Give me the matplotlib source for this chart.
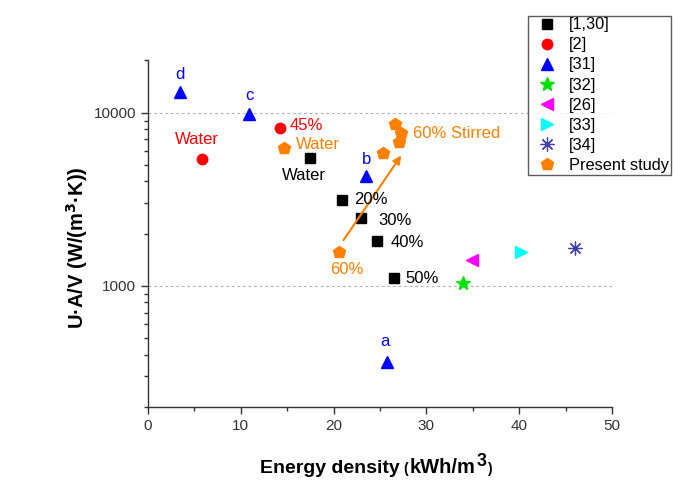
import numpy as np
import matplotlib
matplotlib.use("Agg")
import matplotlib.pyplot as plt
from matplotlib.ticker import LogLocator, NullFormatter, FuncFormatter

plt.rcParams["font.family"] = ["Liberation Sans", "DejaVu Sans"]

# --- data ---
ref_1_30_x = [17.5, 20.9, 23.0, 24.7, 26.5]
ref_1_30_y = [5500, 3135, 2460, 1820, 1107]

ref_2_x = [5.8, 14.2]
ref_2_y = [5380, 8130]

ref_31_x = [25.8, 23.5, 10.9, 3.4]
ref_31_y = [361, 4275, 9790, 13220]

ref_32_x = [33.9]
ref_32_y = [1036]
ref_26_x = [34.9]
ref_26_y = [1413]
ref_33_x = [40.2]
ref_33_y = [1570]
ref_34_x = [46.0]
ref_34_y = [1657]

present_x = [14.7, 20.6, 25.3, 27.1, 27.3, 26.6]
present_y = [6230, 1556, 5880, 6800, 7670, 8570]

arrow_start = (20.9, 1778)
arrow_end = (27.45, 5830)

ORANGE = "#FF8000"

fig = plt.figure(figsize=(6.74, 4.8), dpi=100)
ax = fig.add_axes([0.2196, 0.1527, 0.6884, 0.7213])

h1, = ax.plot(ref_1_30_x, ref_1_30_y, "s", color="black", ms=6.5, ls="none", label="[1,30]")
h2, = ax.plot(ref_2_x, ref_2_y, "o", color="#FF0000", ms=7.5, ls="none", label="[2]")
h3, = ax.plot(ref_31_x, ref_31_y, "^", color="#0000FF", ms=8.5, ls="none", label="[31]")
h4, = ax.plot(ref_32_x, ref_32_y, "*", color="#00E000", ms=10, ls="none", label="[32]")
h5, = ax.plot(ref_26_x, ref_26_y, "<", color="#FF00FF", ms=8.5, ls="none", label="[26]")
h6, = ax.plot(ref_33_x, ref_33_y, ">", color="#00FFFF", ms=8.5, ls="none", label="[33]")
h7, = ax.plot(ref_34_x, ref_34_y, marker=(8, 2, 0), color="#4040A8", ms=10, mew=0.9,
              ls="none", label="[34]")
h8, = ax.plot(present_x, present_y, "p", color=ORANGE, ms=9, ls="none", label="Present study")

ax.annotate("", xy=arrow_end, xytext=arrow_start,
            arrowprops=dict(arrowstyle="-|>", color=ORANGE, lw=1.5, mutation_scale=12))

fs = 12
# labels for [1,30]
ax.text(16.75, 4315, "Water", color="black", fontsize=fs, ha="center", va="center")
ax.text(22.2, 3135, "20%", color="black", fontsize=fs, ha="left", va="center")
ax.text(24.8, 2370, "30%", color="black", fontsize=fs, ha="left", va="center")
ax.text(26.15, 1780, "40%", color="black", fontsize=fs, ha="left", va="center")
ax.text(27.7, 1097, "50%", color="black", fontsize=fs, ha="left", va="center")
# labels for [2]
ax.text(5.25, 6970, "Water", color="#FF0000", fontsize=fs, ha="center", va="center")
ax.text(15.3, 8410, "45%", color="#FF0000", fontsize=fs, ha="left", va="center")
# labels for [31]
ax.text(25.55, 478, "a", color="#0000FF", fontsize=fs, ha="center", va="center")
ax.text(23.5, 5330, "b", color="#0000FF", fontsize=fs, ha="center", va="center")
ax.text(10.9, 12470, "c", color="#0000FF", fontsize=fs, ha="center", va="center")
ax.text(3.4, 16680, "d", color="#0000FF", fontsize=fs, ha="center", va="center")
# labels for present study
ax.text(18.3, 6510, "Water", color=ORANGE, fontsize=fs, ha="center", va="center")
ax.text(21.4, 1236, "60%", color=ORANGE, fontsize=fs, ha="center", va="center")
ax.text(28.6, 7600, "60% Stirred", color=ORANGE, fontsize=fs, ha="left", va="center")

ax.set_yscale("log")
ax.set_xlim(0, 50)
ax.set_ylim(200, 20000)

for yv in (1000, 10000):
    ax.axhline(yv, color="#B0B0B0", lw=0.8, ls=(0, (2.5, 2.5)), zorder=0)

ax.set_xticks([0, 10, 20, 30, 40, 50])
ax.set_xticks([5, 15, 25, 35, 45], minor=True)
ax.yaxis.set_minor_locator(LogLocator(base=10, subs=np.arange(2, 10), numticks=20))
ax.yaxis.set_minor_formatter(NullFormatter())
ax.set_yticks([1000, 10000])
ax.yaxis.set_major_formatter(FuncFormatter(lambda v, p: f"{int(round(v))}"))

ax.tick_params(which="major", direction="out", length=5, width=1, labelsize=11,
               labelcolor="#333333", color="#333333")
ax.tick_params(which="minor", direction="out", length=3, width=1, color="#333333")

for side in ("top", "right"):
    ax.spines[side].set_visible(False)
for side in ("left", "bottom"):
    ax.spines[side].set_linewidth(1.0)
    ax.spines[side].set_color("#333333")

ax.set_ylabel("U\u00b7A/V (W/(m$^{\\mathbf{3}}$\u00b7K))", fontsize=14.5, fontweight="bold")
ax.yaxis.set_label_coords(-0.124, 0.46)

# x label: big "Energy density", smaller unit part, pieced together on one baseline
fig.canvas.draw()
rend = fig.canvas.get_renderer()
W, H = fig.bbox.width, fig.bbox.height
base_y = 1 - 472.7 / 480
t1 = fig.text(260 / W, base_y, "Energy density", fontsize=14, fontweight="bold",
              ha="left", va="baseline")
x_next = t1.get_window_extent(rend).x1 + 3
t2 = fig.text(x_next / W, base_y, "(", fontsize=10, fontweight="bold", ha="left", va="baseline")
x_next = t2.get_window_extent(rend).x1 + 2
t3 = fig.text(x_next / W, base_y, "kWh/m", fontsize=14.5, fontweight="bold", ha="left", va="baseline")
x_next = t3.get_window_extent(rend).x1 + 1
t4 = fig.text(x_next / W, base_y + 7 / H, "3", fontsize=13, fontweight="bold", ha="left", va="baseline")
x_next = t4.get_window_extent(rend).x1 + 1
fig.text(x_next / W, base_y, ")", fontsize=10, fontweight="bold", ha="left", va="baseline")

leg = fig.legend(handles=[h1, h2, h3, h4, h5, h6, h7, h8], loc="upper right",
                 bbox_to_anchor=(670.7 / 674, 1 - 15.7 / 480), fontsize=11.8, frameon=True,
                 fancybox=False, edgecolor="#333333", handlelength=2.1, handletextpad=0.32,
                 labelspacing=0.31, borderpad=0.1, borderaxespad=0, numpoints=1)
leg.get_frame().set_linewidth(1.0)

fig.savefig("out.png", dpi=100)
